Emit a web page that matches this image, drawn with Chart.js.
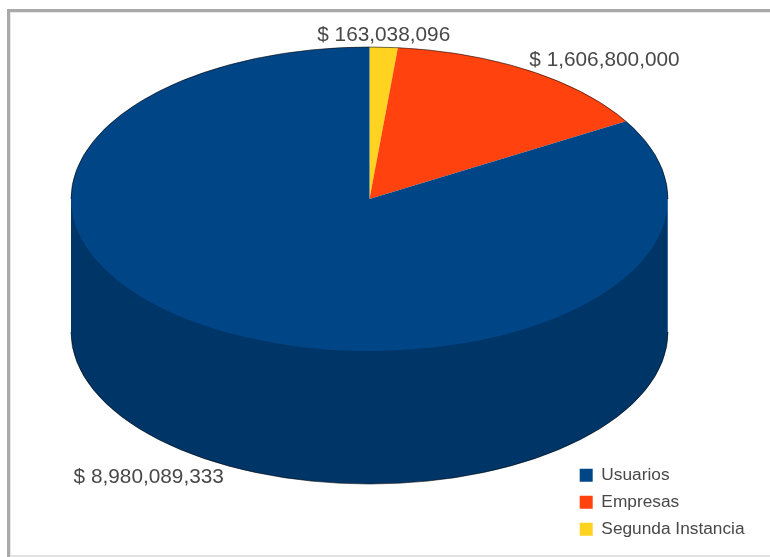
<!DOCTYPE html>
<html>
<head>
<meta charset="utf-8">
<style>
  html, body { margin: 0; padding: 0; background: #fff; }
  canvas { display: block; }
</style>
<script src="https://cdn.jsdelivr.net/npm/chart.js@4"></script>
</head>
<body>
<div style="width:770px;height:557px"><canvas id="pie" width="770" height="557"></canvas></div>
<script>
// Categories are listed clockwise from twelve o'clock; the legend shows them reversed.
const categories = ['Segunda Instancia', 'Empresas', 'Usuarios'];
const amounts = [163038096, 1606800000, 8980089333];
const sliceColors = ['#ffd320', '#ff420e', '#004586'];

const WIDTH_STRETCH = 298.5 / 152;  // turns the round pie into a tilted ellipse
const RIM_DEPTH = 133;              // height of the cylinder wall
const WALL_SHADE = 0.77;
const TEXT_COLOR = '#484848';

function shade(hex, k) {
  const n = parseInt(hex.slice(1), 16);
  const c = [n >> 16, (n >> 8) & 255, n & 255].map(v => Math.round(v * k));
  return `rgb(${c[0]},${c[1]},${c[2]})`;
}

const money = v => '$ ' + v.toLocaleString('en-US');

// Paper frame behind everything
const framePlugin = {
  id: 'frame',
  beforeDraw(chart) {
    const { ctx, width, height } = chart;
    ctx.save();
    ctx.fillStyle = '#ffffff';
    ctx.fillRect(0, 0, width, height);
    ctx.fillStyle = '#e6e6e6';
    ctx.fillRect(10, 12, width - 10, 1);
    ctx.fillRect(10, 12, 1, height - 12);
    ctx.fillStyle = '#e2e2e2';
    ctx.fillRect(10, 555, width - 10, 2);
    ctx.fillStyle = '#a9a9a9';
    ctx.fillRect(7, 9, width - 7, 3);
    ctx.fillRect(7, 9, 3, height - 9);
    ctx.restore();
  }
};

// Extrudes the pie: draws the walls, squashes the slices, then adds the rim and labels
const cylinderPlugin = {
  id: 'cylinder',
  afterLayout(chart) {
    const legend = chart.legend;
    const w = legend.width, h = legend.height;
    legend.left = 570; legend.right = 570 + w;
    legend.top = 457; legend.bottom = 457 + h;
  },
  beforeDatasetsDraw(chart) {
    const { ctx } = chart;
    const arcs = chart.getDatasetMeta(0).data;
    const { x: cx, y: cy, outerRadius: r } = arcs[0];
    const rx = r * WIDTH_STRETCH;

    // Walls only exist on the front half; their upper edge runs under the slices
    arcs.forEach((arc, i) => {
      for (const turn of [-2 * Math.PI, 0, 2 * Math.PI]) {
        const a0 = Math.max(arc.startAngle + turn, 0);
        const a1 = Math.min(arc.endAngle + turn, Math.PI);
        if (a1 <= a0) continue;
        ctx.beginPath();
        ctx.ellipse(cx, cy + RIM_DEPTH, rx, r, 0, a0, a1);
        ctx.lineTo(cx + rx * Math.cos(a1), cy + r * Math.sin(a1));
        ctx.lineTo(cx + rx * Math.cos(a0), cy + r * Math.sin(a0));
        ctx.closePath();
        ctx.fillStyle = shade(sliceColors[i], WALL_SHADE);
        ctx.fill();
      }
    });

    ctx.save();
    ctx.translate(cx, 0);
    ctx.scale(WIDTH_STRETCH, 1);
    ctx.translate(-cx, 0);
  },
  afterDatasetsDraw(chart) {
    const { ctx } = chart;
    ctx.restore();
    const arcs = chart.getDatasetMeta(0).data;
    const { x: cx, y: cy, outerRadius: r } = arcs[0];
    const rx = r * WIDTH_STRETCH;

    ctx.save();
    ctx.lineWidth = 1;

    // Dark edge along the curved parts of the silhouette
    ctx.strokeStyle = 'rgba(0,0,0,0.55)';
    ctx.beginPath();
    ctx.ellipse(cx, cy, rx, r, 0, Math.PI, 2 * Math.PI);
    ctx.stroke();
    ctx.beginPath();
    ctx.ellipse(cx, cy + RIM_DEPTH, rx, r, 0, 0, Math.PI);
    ctx.stroke();

    // Highlight down the right side of the wall
    ctx.strokeStyle = 'rgba(80,130,185,0.7)';
    ctx.beginPath();
    ctx.moveTo(cx + rx - 0.5, cy);
    ctx.lineTo(cx + rx - 0.5, cy + RIM_DEPTH);
    ctx.stroke();

    // Value labels sit just outside the rim at each slice's middle angle
    ctx.font = '20.8px "Liberation Sans", Arial, sans-serif';
    ctx.fillStyle = TEXT_COLOR;
    ctx.textBaseline = 'middle';
    arcs.forEach((arc, i) => {
      const mid = (arc.startAngle + arc.endAngle) / 2;
      const sin = Math.sin(mid), cos = Math.cos(mid);
      const px = cx + rx * cos + (cos < -0.1 ? 2 : 0);
      const py = cy + r * sin;
      ctx.textAlign = Math.abs(cos) < 0.1 ? 'center' : (cos > 0 ? 'left' : 'right');
      const gap = sin > 0 ? RIM_DEPTH + 13 : -(10 + 2 * Math.max(0, (-sin - 0.85) / 0.15));
      ctx.fillText(money(amounts[i]), px, py + gap);
    });
    ctx.restore();
  }
};

new Chart(document.getElementById('pie'), {
  type: 'pie',
  data: {
    labels: categories,
    datasets: [{
      data: amounts,
      backgroundColor: sliceColors,
      borderWidth: 0,
      clip: false
    }]
  },
  options: {
    responsive: false,
    animation: false,
    events: [],
    layout: { padding: { left: 71, right: 102, top: 47, bottom: 206 } },
    plugins: {
      tooltip: { enabled: false },
      title: { display: false },
      legend: {
        position: 'chartArea',
        align: 'start',
        reverse: true,
        labels: {
          boxWidth: 13,
          boxHeight: 13,
          padding: 9.7,
          color: TEXT_COLOR,
          font: { family: '"Liberation Sans", Arial, sans-serif', size: 17.3 }
        }
      }
    }
  },
  plugins: [framePlugin, cylinderPlugin]
});
</script>
</body>
</html>
